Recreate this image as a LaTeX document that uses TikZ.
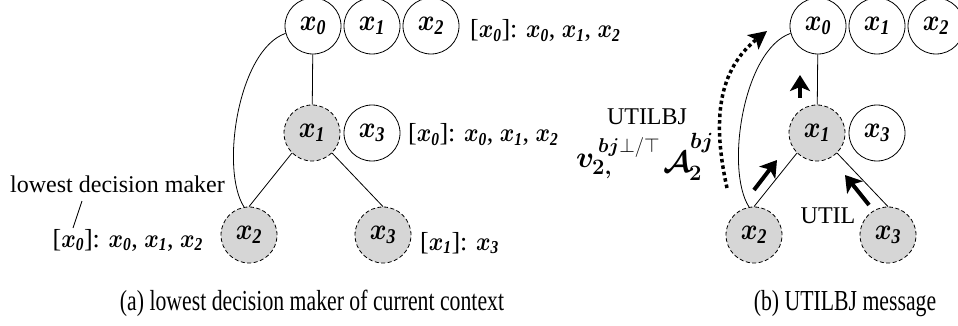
\RequirePackage{fix-cm}
\documentclass[tikz,border=0pt]{standalone}
\usepackage{amsmath}
\usepackage{bm}
\usepackage{graphicx}
\usepackage{fontspec}
\setmainfont{Liberation Serif}
\newfontfamily\capfont[FakeStretch=0.75]{Liberation Serif}
\usetikzlibrary{arrows.meta}
\newcommand{\xv}[1]{\scalebox{0.85}[1]{$\bm{x}_{\text{\bfseries\itshape #1}}$}}
\tikzset{
  vnode/.style={circle, draw, line width=0.8pt, minimum size=56pt, inner sep=0pt,
    font=\fontsize{30}{32}\selectfont},
  shaded/.style={vnode, fill=black!16, dash pattern=on 4pt off 2.5pt},
  edge/.style={line width=0.8pt},
  lbl/.style={font=\fontsize{26}{28}\selectfont, inner sep=0pt},
  txt/.style={font=\fontsize{24}{26}\selectfont, inner sep=0pt},
  captext/.style={font=\capfont\fontsize{29}{30}\selectfont, inner sep=0pt},
  bigmath/.style={font=\fontsize{30}{32}\selectfont, inner sep=0pt},
  smallmath/.style={font=\fontsize{22}{24}\selectfont, inner sep=0pt},
  supmath/.style={font=\fontsize{20}{22}\selectfont, inner sep=0pt},
  thickarr/.style={line width=4pt, -{Stealth[length=16pt, width=20pt, inset=4pt]}},
  dotarr/.style={line width=3.5pt, dash pattern=on 3.5pt off 3pt,
    -{Stealth[length=18pt, width=18pt, inset=4pt]}},
}
\newcommand{\drawtree}[1]{%
  \node[vnode] (#1a0) at (313,26) {\xv{0}};
  \node[vnode] (#1a1) at (372,26) {\xv{1}};
  \node[vnode] (#1a2) at (431,26) {\xv{2}};
  \node[shaded] (#1b1) at (312,133) {\xv{1}};
  \node[vnode] (#1b3) at (372,133) {\xv{3}};
  \node[shaded] (#1c2) at (249,235) {\xv{2}};
  \node[shaded] (#1c3) at (383,235) {\xv{3}};
  \draw[edge] (#1a0) -- (#1b1);
  \draw[edge] (#1b1.225) -- (#1c2.north);
  \draw[edge] (#1b1.315) -- (#1c3.north);
  \draw[edge] (#1a0.195) .. controls (238,50) and (220,170) .. (#1c2.100);
}
\begin{document}
\begin{tikzpicture}[x=1pt, y=-1pt]
\useasboundingbox (0,0) rectangle (958,326);
% left tree
\drawtree{l}
\node[lbl, anchor=base west] (ltop) at (470,38) {[\xv{0}]: \xv{0}, \xv{1}, \xv{2}};
\node[lbl, anchor=base west] (lmid) at (408,142) {[\xv{0}]: \xv{0}, \xv{1}, \xv{2}};
\node[lbl, anchor=base east] (lleft) at (203,247) {[\xv{0}]: \xv{0}, \xv{1}, \xv{2}};
\node[lbl, anchor=base west] (lright) at (420,250) {[\xv{1}]: \xv{3}};
\node[txt, anchor=base west] (lowest) at (10,192) {lowest decision maker};
\coordinate (lt1) at (82,201);
\coordinate (lt2) at (73,228);
\draw[edge] (lt1) -- (lt2);
% right tree
\begin{scope}[xshift=505pt]
\drawtree{r}
\end{scope}
\coordinate (p1) at (800,98);  \coordinate (p2) at (800,75);
\coordinate (q1) at (754,190); \coordinate (q2) at (777,160);
\coordinate (s1) at (869,205); \coordinate (s2) at (845,175);
\coordinate (d1) at (727,188); \coordinate (d2) at (767,31);
\draw[thickarr] (p1) -- (p2);
\draw[thickarr] (q1) -- (q2);
\draw[thickarr] (s1) -- (s2);
\draw[dotarr] (d1) .. controls (712,120) and (718,70) .. (d2);
\node[txt] (util) at (828,216) {UTIL};
\node[txt] (utilbj) at (647,117) {UTILBJ};
\node[bigmath, anchor=base west] (vv) at (576,167) {$\bm{v}$};
\node[smallmath, anchor=base west] (vsub) at (592,174) {$\bm{2,}$};
\node[supmath, anchor=base west] (vsup) at (598,153) {$\bm{bj}{\perp}/{\top}$};
\node[bigmath, anchor=base west] (aa) at (663,172) {$\bm{\mathcal{A}}$};
\node[smallmath, anchor=base west] (asub) at (689,180) {$\bm{2}$};
\node[smallmath, anchor=base west] (asup) at (690,149) {$\bm{bj}$};
% captions
\node[captext, anchor=base] (capa) at (312,310) {(a) lowest decision maker of current context};
\node[captext, anchor=base] (capb) at (845,310) {(b) UTILBJ message};
\end{tikzpicture}
\end{document}
